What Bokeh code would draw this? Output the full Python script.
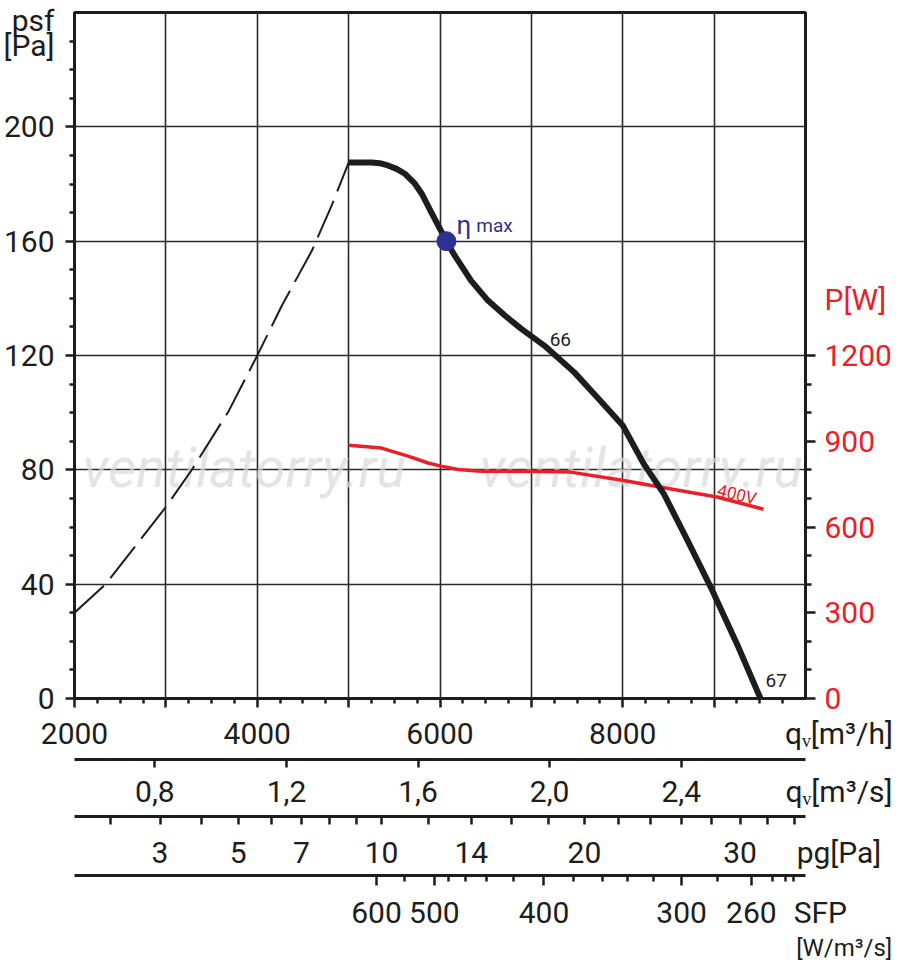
import math, json
from bokeh.plotting import figure
from bokeh.models import LinearAxis, Range1d, FixedTicker, Label, CustomJSTickFormatter
from bokeh.embed import file_html
from bokeh.resources import INLINE

# ---------------- data ----------------
# stalled (dashed) part of the pressure curve: q_v [m3/h], p_sf [Pa]
dash_q = [2000, 2340, 3000, 3290, 3690, 4005, 4270, 4600, 4815, 5000]
dash_p = [30, 40, 67, 80.3, 100.7, 120.3, 137.5, 156.8, 172.5, 187.5]
# working part of the pressure curve
curve_q = [5000, 5250, 5340, 5430, 5525, 5615, 5725, 5800, 5905, 6000, 6070, 6160, 6340, 6525,
           6710, 6890, 7160, 7470, 7720, 8000, 8230, 8450, 8710, 8980, 9250, 9540]
curve_p = [187.5, 187.5, 187.3, 186.5, 185.3, 183.6, 180.1, 176.6, 170.1, 164.3, 160, 155, 146.2, 139.2,
           134, 129.3, 123, 114.1, 105.4, 95.5, 82.1, 71.6, 55.2, 37.8, 19.1, -2.4]
# power input curve (400V): P [W]
power_q = [5000, 5360, 5650, 5870, 6010, 6200, 6450, 6960, 7430, 8010, 8560, 9030, 9540]
power_w = [886, 876, 848, 824, 813, 801, 795, 795, 792, 763, 731, 705, 662]
# max efficiency point
eta_q = [6070]
eta_p = [160]

# axis ticks and tick labels
NB = "\u00a0"
qh_major = [2000, 3000, 4000, 5000, 6000, 7000, 8000, 9000]
qh_minor = [q for q in range(2250, 10000, 250) if q % 1000 != 0]
qh_lab_ticks = [2000, 4000, 6000, 8000, 10000]
qh_lab_text = ["2000", "4000", "6000", "8000", NB * 9 + "q\u1d65[m\u00b3/h]"]

psf_major = [0, 40, 80, 120, 160, 200]
psf_minor = [v for v in range(10, 240, 10) if v % 40 != 0]
psf_lab_ticks = [0, 40, 80, 120, 160, 200, 237.2, 228.5]
psf_lab_text = ["0", "40", "80", "120", "160", "200", "psf", "[Pa]"]

pw_major = [0, 300, 600, 900, 1200]
pw_minor = [100, 200, 400, 500, 700, 800, 1000, 1100]
pw_lab_ticks = [0, 300, 600, 900, 1200, 1396]
pw_lab_text = ["0", "300", "600", "900", "1200", "P[W]"]

QS_END = 10000 / 3600
qs_major = [0.8, 1.2, 1.6, 2.0, 2.4]
qs_lab_ticks = [0.8, 1.2, 1.6, 2.0, 2.4, QS_END]
qs_lab_text = ["0,8", "1,2", "1,6", "2,0", "2,4", NB * 9 + "q\u1d65[m\u00b3/s]"]

PG_K = 1695.0  # q_v [m3/h] = PG_K * sqrt(p_g)
SG_END = 10000 / PG_K
pg_major = [3, 5, 7, 10, 14, 20, 30]
pg_minor = [2, 4, 6, 8, 9, 12, 16, 18, 22, 24, 26, 28, 32, 34]
pg_lab_text = ["3", "5", "7", "10", "14", "20", "30", NB * 9 + "pg[Pa]"]

sfp_major = [5305, 5938, 7138, 8644, 9407]
sfp_minor = [5611, 6091, 6276, 6505, 6808, 7465, 7782, 8055, 8338, 9036, 9636, 9778, 9865]
sfp_lab_ticks = [5305, 5938, 7138, 8644, 9407, 10000]
sfp_lab_text = ["600", "500", "400", "300", "260", NB * 4 + "SFP"]
sfp_unit2_ticks = [10000]
sfp_unit2_text = [NB * 13 + "[W/m\u00b3/s]"]

FONT = "Roboto"
BLACK = "#1d1d1b"
RED = "#e62129"
BLUE = "#2e3192"


def fmt_map(keys, labels):
    code = ("const ks = %s; const vs = %s;\n"
            "for (let i = 0; i < ks.length; i++) {\n"
            "  if (Math.abs(tick - ks[i]) <= 1e-6 * Math.max(1, Math.abs(ks[i]))) return vs[i];\n"
            "}\nreturn '';") % (json.dumps(keys), json.dumps(labels))
    return CustomJSTickFormatter(code=code)


def line_axis(ax, major, minor, out_major, out_minor):
    ax.ticker = FixedTicker(ticks=major, minor_ticks=minor)
    ax.axis_line_color = BLACK
    ax.axis_line_width = 3
    ax.major_tick_line_color = BLACK
    ax.major_tick_line_width = 2.5
    ax.major_tick_in = 0
    ax.major_tick_out = out_major
    ax.minor_tick_line_color = BLACK
    ax.minor_tick_line_width = 2.5
    ax.minor_tick_in = 0
    ax.minor_tick_out = out_minor
    ax.major_label_text_font_size = "0px"
    ax.major_label_text_color = None


def label_axis(ax, keys, labels, size="30px", color=BLACK, standoff=10):
    ax.ticker = FixedTicker(ticks=keys, minor_ticks=[])
    ax.formatter = fmt_map(keys, labels)
    ax.axis_line_color = None
    ax.major_tick_line_color = None
    ax.minor_tick_line_color = None
    ax.major_tick_in = 0
    ax.major_tick_out = 0
    ax.minor_tick_in = 0
    ax.minor_tick_out = 0
    ax.major_label_text_font = FONT
    ax.major_label_text_font_size = size
    ax.major_label_text_color = color
    ax.major_label_standoff = standoff


def spacer_axis(ax, gap, tick):
    ax.ticker = FixedTicker(ticks=[tick], minor_ticks=[])
    ax.axis_line_color = None
    ax.major_tick_line_color = "white"
    ax.major_tick_line_width = 1
    ax.major_tick_in = 0
    ax.major_tick_out = gap
    ax.minor_tick_out = 0
    ax.minor_tick_in = 0
    ax.major_label_text_font_size = "0px"
    ax.major_label_text_color = None


p = figure(width=900, height=967, x_range=Range1d(2000, 10000), y_range=Range1d(0, 240),
           output_backend="svg", toolbar_location=None,
           min_border_left=72, min_border_right=95, min_border_top=12, min_border_bottom=269)
p.extra_y_ranges = {"pw": Range1d(0, 2400)}
p.extra_x_ranges = {"qs": Range1d(2000 / 3600, QS_END),
                    "sg": Range1d(2000 / PG_K, SG_END)}
p.background_fill_color = "white"
p.border_fill_color = "white"
p.outline_line_color = BLACK
p.outline_line_width = 3

# grid
p.xgrid.ticker = FixedTicker(ticks=[3000, 4000, 5000, 6000, 7000, 8000, 9000])
p.ygrid.ticker = FixedTicker(ticks=[40, 80, 120, 160, 200])
for g in (p.xgrid[0], p.ygrid[0]):
    g.grid_line_color = "#2a2a2a"
    g.grid_line_width = 1.6

# ---- left: p_sf ----
line_axis(p.yaxis[0], psf_major, psf_minor, 9, 5)
ylab = LinearAxis()
label_axis(ylab, psf_lab_ticks, psf_lab_text, size="30px", standoff=11)
p.add_layout(ylab, "left")

# ---- right: P [W] ----
rline = LinearAxis(y_range_name="pw")
line_axis(rline, pw_major, pw_minor, 10, 6)
p.add_layout(rline, "right")
rlab = LinearAxis(y_range_name="pw")
label_axis(rlab, pw_lab_ticks, pw_lab_text, size="30px", color=RED, standoff=9)
p.add_layout(rlab, "right")

# ---- bottom rows ----
# row 1: q_v [m3/h]
line_axis(p.xaxis[0], qh_major, qh_minor, 9, 5)
a_lab = LinearAxis()
label_axis(a_lab, qh_lab_ticks, qh_lab_text, standoff=8)
p.add_layout(a_lab, "below")
a_sp = LinearAxis()
spacer_axis(a_sp, 6, 2000)
p.add_layout(a_sp, "below")

# row 2: q_v [m3/s]
b_line = LinearAxis(x_range_name="qs")
line_axis(b_line, qs_major, [], 8, 0)
p.add_layout(b_line, "below")
b_lab = LinearAxis(x_range_name="qs")
label_axis(b_lab, qs_lab_ticks, qs_lab_text, standoff=6)
p.add_layout(b_lab, "below")
b_sp = LinearAxis()
spacer_axis(b_sp, 5, 2000)
p.add_layout(b_sp, "below")

# row 3: p_g [Pa]
c_line = LinearAxis(x_range_name="sg")
line_axis(c_line, [math.sqrt(v) for v in pg_major], [math.sqrt(v) for v in pg_minor], 8, 8)
p.add_layout(c_line, "below")
c_lab = LinearAxis(x_range_name="sg")
label_axis(c_lab, [math.sqrt(v) for v in pg_major] + [SG_END], pg_lab_text, standoff=10)
p.add_layout(c_lab, "below")
c_sp = LinearAxis()
spacer_axis(c_sp, 3, 2000)
p.add_layout(c_sp, "below")

# row 4: SFP
d_line = LinearAxis()
line_axis(d_line, sfp_major, sfp_minor, 10, 6)
p.add_layout(d_line, "below")
d_lab = LinearAxis()
label_axis(d_lab, sfp_lab_ticks, sfp_lab_text, standoff=9)
p.add_layout(d_lab, "below")
e_lab = LinearAxis()
label_axis(e_lab, sfp_unit2_ticks, sfp_unit2_text, size="24px", standoff=1)
p.add_layout(e_lab, "below")

# watermark
for wx in (2087, 6431):
    p.add_layout(Label(x=wx, y=69.3, text="ventilatorry.ru", text_font=FONT,
                       text_font_size="55px", text_font_style="italic",
                       text_color="#d9d9d9", text_alpha=0.7, level="underlay"))

# curves
p.line(dash_q, dash_p, line_color=BLACK, line_width=2, line_dash="40 10")
p.line(power_q, power_w, y_range_name="pw", line_color=RED, line_width=3.5, line_join="round")
p.line(curve_q, curve_p, line_color=BLACK, line_width=6, line_join="round")
p.scatter(eta_q, eta_p, size=19, fill_color=BLUE, line_color=BLUE)


def lab(text, x, y, size, color=BLACK, **kw):
    p.add_layout(Label(x=x, y=y, text=text, text_font=FONT, text_font_size=size,
                       text_color=color, text_baseline="alphabetic", text_align="left", **kw))


lab("\u03b7", 6180, 165.5, "26px", BLUE)
lab("max", 6398, 165.5, "19px", BLUE)
lab("66", 7200, 125.5, "19px")
lab("67", 9563, 6.3, "19px")
lab("400V", 9040, 73.1, "17px", RED, angle=-0.24)

open("out.html", "w").write(file_html(p, INLINE))
